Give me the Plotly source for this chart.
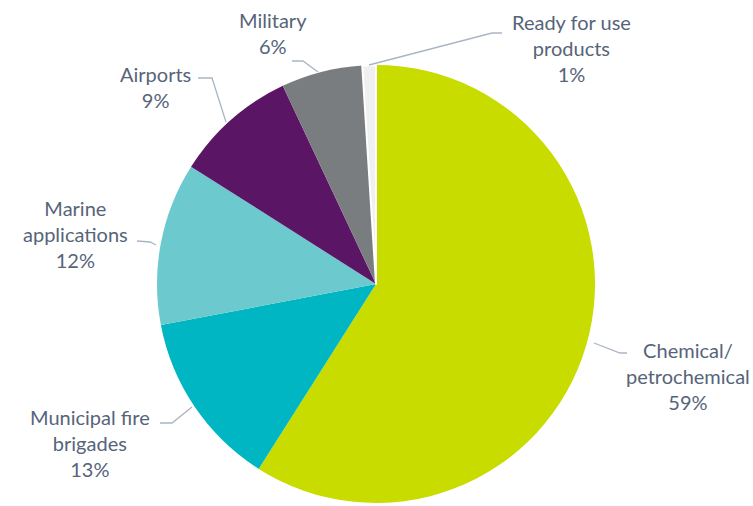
import plotly.graph_objects as go

# ---- data ----
categories = ["Chemical/petrochemical", "Municipal fire brigades", "Marine applications",
              "Airports", "Military", "Ready for use products"]
display_labels = ["Chemical/<br>petrochemical", "Municipal fire<br>brigades", "Marine<br>applications",
                  "Airports", "Military", "Ready for use<br>products"]
shares = [59, 13, 12, 9, 6, 1]

colors = ["#c8dc00", "#00b6c2", "#6cc9ce", "#5b1565", "#7a7d80", "#f0f0f0"]

W, H = 753, 506
def px(x): return x / W
def py(y): return 1 - y / H

# label centres (pixels) and leader-line paths (pixels)
label_pos = [(688, 376), (90, 443), (75, 234), (155, 87), (273, 33), (571, 48)]
leaders = [
    [(627, 353), (620, 353), (594, 343)],
    [(160, 423), (172, 423), (192, 407)],
    [(137, 241), (150, 242), (156, 245)],
    [(198, 78), (212, 78), (226, 122)],
    [(292, 61), (303, 61), (318, 72)],
    [(502, 33), (492, 33), (369, 65)],
]

cx, cy, r = 376, 284, 219

fig = go.Figure(go.Pie(
    labels=categories,
    values=shares,
    sort=False,
    direction="clockwise",
    rotation=0,
    textinfo="none",
    marker=dict(colors=colors,
                line=dict(color="white", width=[0, 0, 0, 0, 0, 2])),
    domain=dict(x=[px(cx - r), px(cx + r)], y=[py(cy + r), py(cy - r)]),
    showlegend=False,
    hoverinfo="label+percent",
))

annotations = []
for lab, v, (x, y) in zip(display_labels, shares, label_pos):
    annotations.append(dict(
        x=px(x), y=py(y), xref="paper", yref="paper",
        text=f"{lab}<br>{v}%", showarrow=False,
        xanchor="center", yanchor="middle", align="center",
        font=dict(family="Lato, Open Sans, sans-serif", size=20, color="#56647a"),
    ))

shapes = []
for pts in leaders:
    path = "M " + " L ".join(f"{px(x)},{py(y)}" for x, y in pts)
    shapes.append(dict(type="path", path=path, xref="paper", yref="paper",
                       line=dict(color="#a9b5c6", width=1.3)))

fig.update_layout(
    width=W, height=H,
    margin=dict(l=0, r=0, t=0, b=0),
    paper_bgcolor="white", plot_bgcolor="white",
    annotations=annotations, shapes=shapes,
)

fig.write_html("out.html")
